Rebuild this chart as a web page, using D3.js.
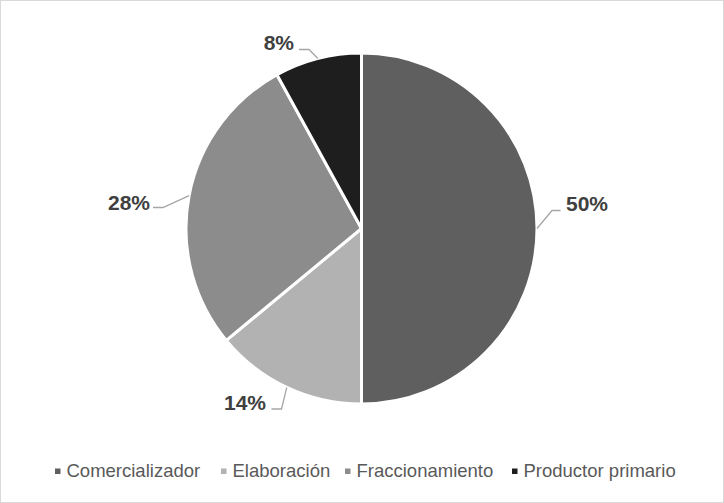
<!DOCTYPE html>
<html><head><meta charset="utf-8">
<script src="https://cdn.jsdelivr.net/npm/d3@7"></script>
<style>body{margin:0;background:#fff}svg{display:block}</style>
</head><body><svg id="c" width="724" height="503"></svg>
<script>
const categories = ["Comercializador","Elaboración","Fraccionamiento","Productor primario"];
const values = [50,14,28,8];
const labels = ["50%","14%","28%","8%"];
const colors = ["#5f5f5f","#b2b2b2","#8c8c8c","#1e1e1e"];

const svg = d3.select("#c");
svg.append("rect").attr("x",0.5).attr("y",0.5).attr("width",723).attr("height",502)
  .attr("fill","#fff").attr("stroke","#d9d9d9");

const cx = 361.5, cy = 228.5, r = 175.5;
const g = svg.append("g").attr("transform",`translate(${cx},${cy})`);
const pie = d3.pie().sort(null).value(d=>d);
const arcs = pie(values);
const arc = d3.arc().innerRadius(0).outerRadius(r);
g.selectAll("path").data(arcs).enter().append("path")
  .attr("d",arc).attr("fill",(d,i)=>colors[i]).attr("stroke","#fff").attr("stroke-width",3).attr("stroke-linejoin","round");

const labelOff = [
  {lx:566, ly:211, anchor:"start", knee:[552,210.5], end:[560.5,210.5]},
  {lx:266, ly:410, anchor:"end", knee:[281.5,409], end:[271.5,409]},
  {lx:150, ly:210, anchor:"end", knee:[163,207.5], end:[153,207.5]},
  {lx:294, ly:50, anchor:"end", knee:[309,49.5], end:[299,49.5]}
];
arcs.forEach((a,i)=>{
  const mid = (a.startAngle+a.endAngle)/2;
  const px = cx + Math.sin(mid)*r, py = cy - Math.cos(mid)*r;
  const L = labelOff[i];
  svg.append("polyline").attr("points",`${px},${py} ${L.knee[0]},${L.knee[1]} ${L.end[0]},${L.end[1]}`)
    .attr("fill","none").attr("stroke","#a6a6a6").attr("stroke-width",1.3);
  svg.append("text").attr("x",L.lx).attr("y",L.ly).attr("text-anchor",L.anchor)
    .attr("font-family","Liberation Sans, Arial, sans-serif").attr("font-weight","bold")
    .attr("font-size",21).attr("fill","#404040").text(labels[i]);
});

const legX = [55,221,345,512];
const lg = svg.append("g");
categories.forEach((c,i)=>{
  lg.append("rect").attr("x",legX[i]).attr("y",468.5).attr("width",5.5).attr("height",5.5).attr("fill",colors[i]);
  lg.append("text").attr("x",legX[i]+11.5).attr("y",477)
    .attr("font-family","Liberation Sans, Arial, sans-serif").attr("font-size",18.5)
    .attr("fill","#595959").text(c);
});
</script></body></html>
